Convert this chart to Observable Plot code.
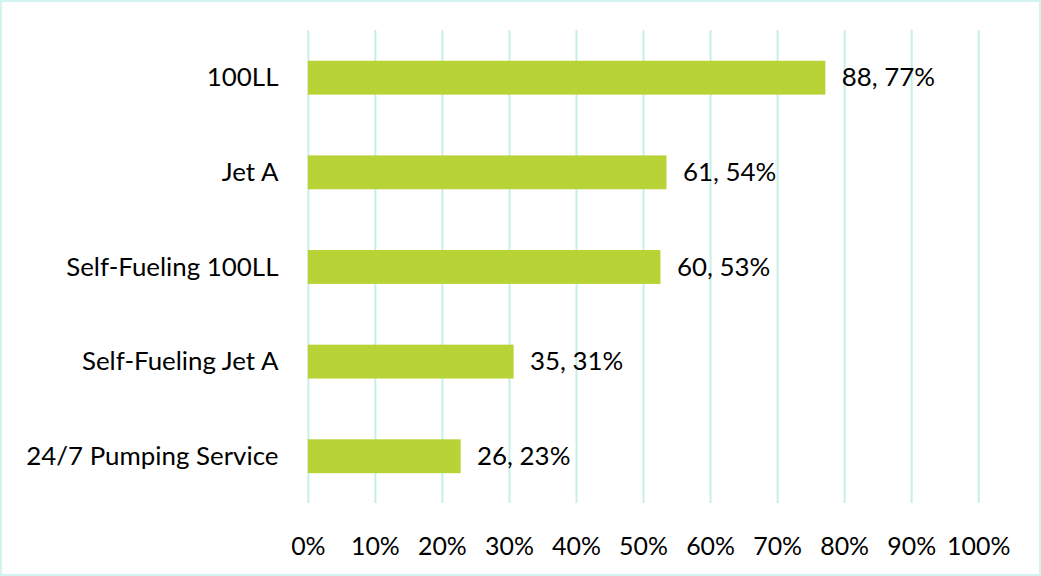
<!DOCTYPE html>
<html>
<head>
<meta charset="utf-8">
<script src="https://cdn.jsdelivr.net/npm/d3@7"></script>
<script src="https://cdn.jsdelivr.net/npm/@observablehq/plot@0.6"></script>
<style>
  html, body { margin: 0; padding: 0; background: #fff; }
  #chart { width: 1041px; height: 576px; box-sizing: border-box; border: 2px solid #d2f3ee; position: relative; overflow: hidden; }
  #chart svg { position: absolute; left: -2px; top: -2px; }
</style>
</head>
<body>
<div id="chart"></div>
<script>
const categories = ["100LL", "Jet A", "Self-Fueling 100LL", "Self-Fueling Jet A", "24/7 Pumping Service"];
const counts = [88, 61, 60, 35, 26];
const percents = [77.2, 53.5, 52.6, 30.7, 22.8];
const xTicks = [0, 10, 20, 30, 40, 50, 60, 70, 80, 90, 100];

const data = categories.map((c, i) => ({
  category: c,
  count: counts[i],
  pct: percents[i],
  label: `${counts[i]}, ${Math.round(percents[i])}%`
}));

const font = "Lato, 'Open Sans', sans-serif";

const plot = Plot.plot({
  width: 1041,
  height: 576,
  marginLeft: 309,
  marginRight: 59,
  marginTop: 30,
  marginBottom: 71,
  style: { fontFamily: font, fontSize: "26px", color: "#000", background: "transparent" },
  x: { domain: [0, 100], ticks: xTicks, label: null, tickFormat: d => d + "%" },
  y: { domain: categories, label: null, paddingInner: 0.645, paddingOuter: 0.3225 },
  marks: [
    Plot.ruleX(xTicks, { stroke: "#c6efe8", strokeWidth: 2, strokeOpacity: 1 }),
    Plot.barX(data, { y: "category", x: "pct", fill: "#b8d335", insetTop: 0, insetBottom: 0 }),
    Plot.text(data, { y: "category", x: "pct", text: "label", textAnchor: "start", dx: 16, fill: "#000", fontSize: 26 }),
    Plot.axisX(xTicks, { tickSize: 0, tickPadding: 34, fontSize: 25, fill: "#000", label: null, tickFormat: d => d + "%" }),
    Plot.axisY({ tickSize: 0, tickPadding: 30, fontSize: 26, fill: "#000", label: null })
  ]
});
document.getElementById("chart").appendChild(plot);
</script>
</body>
</html>
